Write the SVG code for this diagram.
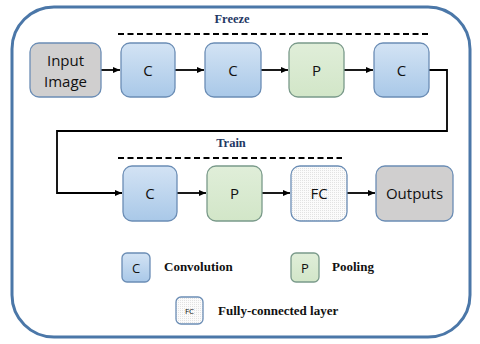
<svg xmlns="http://www.w3.org/2000/svg" width="480" height="344" viewBox="0 0 480 344">
<defs>
<linearGradient id="gC" x1="0" y1="0" x2="0" y2="1"><stop offset="0" stop-color="#d3e3f4"/><stop offset="1" stop-color="#a9c8e8"/></linearGradient>
<linearGradient id="gP" x1="0" y1="0" x2="0" y2="1"><stop offset="0" stop-color="#e0eed9"/><stop offset="1" stop-color="#d2e6c8"/></linearGradient>
<pattern id="dots" width="2" height="2" patternUnits="userSpaceOnUse"><rect width="2" height="2" fill="#fbfbfb"/><rect width="1" height="1" fill="#e2e2e2"/></pattern>
<marker id="arr" markerWidth="8" markerHeight="8" refX="7" refY="4" orient="auto" markerUnits="userSpaceOnUse"><path d="M0,1 L7,4 L0,7 Z" fill="#000"/></marker>
</defs>
<style>
.box{stroke:#6b8db5;stroke-width:1.3}
.c{fill:url(#gC)}
.p{fill:url(#gP);stroke:#7a9a8a}
.fc{fill:url(#dots)}
.g{fill:#d0cfcf}
.lbl{font-family:"Open Sans","Liberation Sans",sans-serif;font-size:15px;fill:#111;text-anchor:middle}
.leg{font-family:"Liberation Serif",serif;font-weight:bold;font-size:13px;fill:#111}
.ttl{font-family:"Liberation Serif",serif;font-weight:bold;font-size:12.5px;fill:#1f3864;text-anchor:middle}
.con{fill:none;stroke:#000;stroke-width:1.8}
.dash{stroke:#000;stroke-width:2;stroke-dasharray:6,3.5}
</style>
<rect x="12" y="7" width="458" height="330" rx="42" fill="#fff" stroke="#4b77a8" stroke-width="3"/>
<text class="ttl" x="232" y="23">Freeze</text>
<line class="dash" x1="118" y1="34" x2="431" y2="34"/>
<text class="ttl" x="231" y="147">Train</text>
<line class="dash" x1="118" y1="158" x2="342" y2="158"/>
<g id="connectors">
<line class="con" x1="101" y1="70" x2="120" y2="70" marker-end="url(#arr)"/>
<line class="con" x1="175" y1="70" x2="204" y2="70" marker-end="url(#arr)"/>
<line class="con" x1="261" y1="70" x2="288" y2="70" marker-end="url(#arr)"/>
<line class="con" x1="344" y1="70" x2="373" y2="70" marker-end="url(#arr)"/>
<polyline class="con" points="429,70 447,70 447,131 57,131 57,193 122,193" marker-end="url(#arr)"/>
<line class="con" x1="177" y1="193" x2="206" y2="193" marker-end="url(#arr)"/>
<line class="con" x1="262" y1="193" x2="290" y2="193" marker-end="url(#arr)"/>
<line class="con" x1="347" y1="193" x2="375" y2="193" marker-end="url(#arr)"/>
</g>
<g id="input"><rect class="box g" x="30" y="43" width="71" height="54" rx="9"/><text class="lbl" x="65.5" y="66">Input</text><text class="lbl" x="65.5" y="87">Image</text></g>
<g id="c1"><rect class="box c" x="121" y="43" width="54" height="54" rx="9"/><text class="lbl" x="148" y="76">C</text></g>
<g id="c2"><rect class="box c" x="205" y="43" width="56" height="54" rx="9"/><text class="lbl" x="233" y="76">C</text></g>
<g id="p1"><rect class="box p" x="289" y="43" width="55" height="54" rx="9"/><text class="lbl" x="316.5" y="76">P</text></g>
<g id="c3"><rect class="box c" x="374" y="43" width="55" height="54" rx="9"/><text class="lbl" x="401.5" y="76">C</text></g>
<g id="c4"><rect class="box c" x="123" y="166" width="54" height="55" rx="9"/><text class="lbl" x="150" y="199">C</text></g>
<g id="p2"><rect class="box p" x="207" y="166" width="55" height="55" rx="9"/><text class="lbl" x="234.5" y="199">P</text></g>
<g id="fc"><rect class="box fc" x="291" y="166" width="56" height="55" rx="9"/><text class="lbl" x="319" y="199">FC</text></g>
<g id="outputs"><rect class="box g" x="376" y="166" width="77" height="55" rx="9"/><text class="lbl" x="414.5" y="199">Outputs</text></g>
<g id="legend-c"><rect class="box c" x="122" y="253" width="28" height="29" rx="5"/><text class="lbl" x="136" y="273" style="font-size:13px">C</text><text class="leg" x="164" y="271">Convolution</text></g>
<g id="legend-p"><rect class="box p" x="291" y="253" width="28" height="29" rx="5"/><text class="lbl" x="305" y="273" style="font-size:13px">P</text><text class="leg" x="332" y="271">Pooling</text></g>
<g id="legend-fc"><rect class="box fc" x="176" y="297" width="27" height="27" rx="5"/><text class="lbl" x="189.5" y="314" style="font-size:8px">FC</text><text class="leg" x="218" y="315">Fully-connected layer</text></g>
</svg>
